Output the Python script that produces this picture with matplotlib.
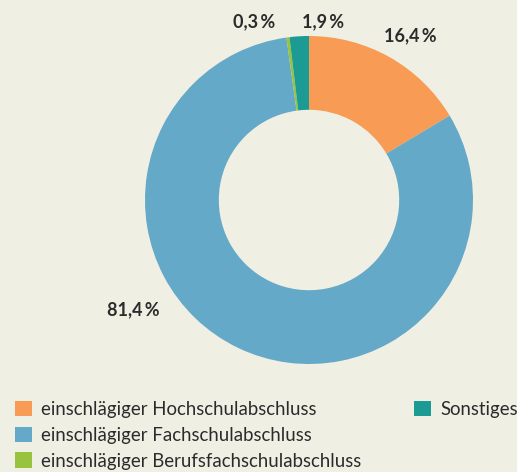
import matplotlib
matplotlib.use("Agg")
import matplotlib.pyplot as plt
from matplotlib.patches import Patch

labels = ["einschlägiger Hochschulabschluss", "einschlägiger Fachschulabschluss",
          "einschlägiger Berufsfachschulabschluss", "Sonstiges"]
values = [16.4, 81.4, 0.3, 1.9]
value_labels = ["16,4\u2009%", "81,4\u2009%", "0,3\u2009%", "1,9\u2009%"]
colors = ["#F89B55", "#64A9C7", "#98C33F", "#1C9A94"]
label_pos = [(0.62, 1.0), (-1.07, -0.67), (-0.335, 1.085), (0.085, 1.085)]

bg = "#F0EFE4"
W, H = 517, 472
fig = plt.figure(figsize=(W / 100, H / 100), dpi=100, facecolor=bg)
cx, cy, R = 309, 200, 164
ax = fig.add_axes([(cx - R) / W, (H - cy - R) / H, 2 * R / W, 2 * R / H])
ax.set_facecolor(bg)
ax.pie(values, colors=colors, startangle=90, counterclock=False, radius=1.0,
       wedgeprops=dict(width=0.45, linewidth=0))
ax.set_xlim(-1, 1)
ax.set_ylim(-1, 1)
ax.set_aspect("equal")
ax.axis("off")
for txt, (x, y) in zip(value_labels, label_pos):
    ax.text(x, y, txt, ha="center", va="center", fontsize=13, fontweight="bold",
            family=["Lato", "DejaVu Sans"], color="#2b2b2b", clip_on=False)

handles = [Patch(facecolor=c, edgecolor="none") for c in colors]
blank = Patch(facecolor="none", edgecolor="none")
order_h = [handles[0], handles[1], handles[2], handles[3], blank, blank]
order_l = [labels[0], labels[1], labels[2], labels[3], "", ""]
leg = fig.legend(order_h, order_l, ncol=2, loc="upper left",
                 bbox_to_anchor=(15 / W, 1 - 401 / H), frameon=False,
                 prop=dict(family="Lato", size=13.4), handlelength=0.9,
                 handleheight=0.9, handletextpad=0.5, labelspacing=0.46,
                 columnspacing=2.85, borderaxespad=0, borderpad=0)
for t in leg.get_texts():
    t.set_color("#2b2b2b")

fig.savefig("out.png", dpi=100, facecolor=bg)
